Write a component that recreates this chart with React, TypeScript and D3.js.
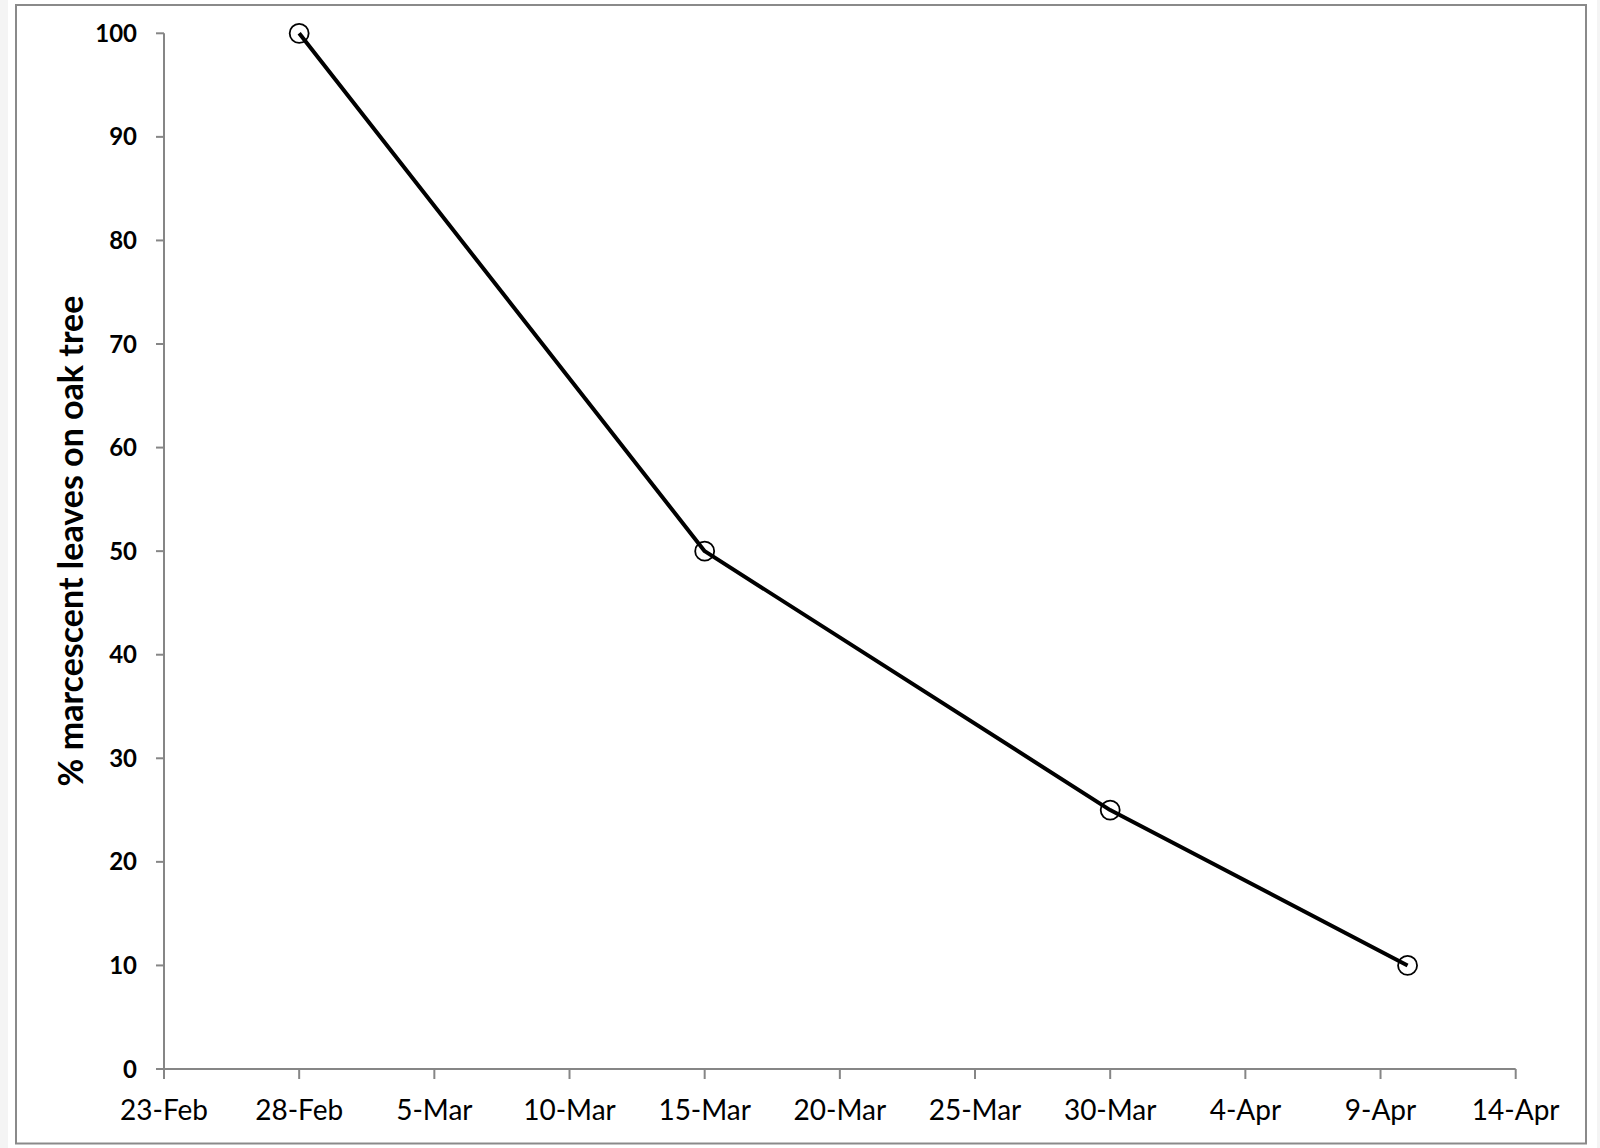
import * as d3 from 'd3';
import React from 'react';

// observation dates and % of marcescent leaves still on the tree
const obsDates = ['2021-02-28', '2021-03-15', '2021-03-30', '2021-04-10'];
const obsValues = [100, 50, 25, 10];

const xTickDates = ['2021-02-23', '2021-02-28', '2021-03-05', '2021-03-10', '2021-03-15',
    '2021-03-20', '2021-03-25', '2021-03-30', '2021-04-04', '2021-04-09', '2021-04-14'];
const yTickValues = [0, 10, 20, 30, 40, 50, 60, 70, 80, 90, 100];

const yTitle = '% marcescent leaves on oak tree';

const W = 1600;
const H = 1148;
const axisColor = '#868686';
const font = 'Lato, "Open Sans", sans-serif';

function App() {
    const parse = d3.utcParse('%Y-%m-%d');
    const fmt = d3.utcFormat('%-d-%b');

    const x = d3.scaleUtc()
        .domain([parse(xTickDates[0]), parse(xTickDates[xTickDates.length - 1])])
        .range([164, 1515.7]);
    const y = d3.scaleLinear()
        .domain([0, 100])
        .range([1069, 33.3]);

    const points = obsDates.map((d, i) => ({ date: parse(d), value: obsValues[i] }));

    const line = d3.line()
        .x(d => x(d.date))
        .y(d => y(d.value));

    const x0 = x.range()[0];
    const y0 = y(0);

    return (
        <svg width={W} height={H} style={{ position: 'absolute', left: 0, top: 0, display: 'block' }}>
            <rect x={0} y={0} width={W} height={H} fill="#f4f4f4" />
            <rect x={8} y={0} width={1589} height={H} fill="#ffffff" />
            {/* chart frame */}
            <rect x={16} y={5} width={1570} height={1138.5} fill="none" stroke="#8a8a8a" strokeWidth={2} />

            {/* y axis */}
            <line x1={x0} x2={x0} y1={y(100)} y2={y0} stroke={axisColor} strokeWidth={2} />
            {yTickValues.map(v => (
                <g key={'y' + v}>
                    <line x1={x0 - 8} x2={x0} y1={y(v)} y2={y(v)} stroke={axisColor} strokeWidth={2} />
                    <text x={137} y={y(v) + 8.5} textAnchor="end" fontFamily={font} fontWeight="bold"
                        fontSize={24} fill="#000">{v}</text>
                </g>
            ))}

            {/* x axis */}
            <line x1={x0} x2={x.range()[1]} y1={y0} y2={y0} stroke={axisColor} strokeWidth={2} />
            {xTickDates.map(d => {
                const t = parse(d);
                return (
                    <g key={d}>
                        <line x1={x(t)} x2={x(t)} y1={y0} y2={y0 + 10} stroke={axisColor} strokeWidth={2} />
                        <text x={x(t)} y={1120} textAnchor="middle" fontFamily={font}
                            fontSize={28} fill="#000">{fmt(t)}</text>
                    </g>
                );
            })}

            {/* y axis title */}
            <text transform={`translate(83,541) rotate(-90)`} textAnchor="middle" fontFamily={font}
                fontWeight="bold" fontSize={34} fill="#000">{yTitle}</text>

            {/* series */}
            <path d={line(points)} fill="none" stroke="#000" strokeWidth={4} strokeLinejoin="round" />
            {points.map((p, i) => (
                <circle key={i} cx={x(p.date)} cy={y(p.value)} r={9.5} fill="none" stroke="#000" strokeWidth={1.8} />
            ))}
        </svg>
    );
}

export default App;
